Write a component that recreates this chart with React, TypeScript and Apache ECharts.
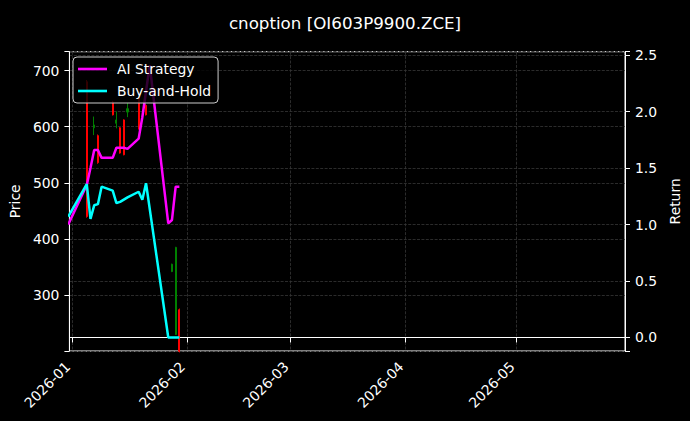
import React, { useEffect, useRef } from 'react';
import * as echarts from 'echarts';

// ---- Candlestick (price) data ----
const candleDates = ['2026-01-05', '2026-01-07', '2026-01-08', '2026-01-12', '2026-01-13', '2026-01-14', '2026-01-15', '2026-01-16', '2026-01-19', '2026-01-21', '2026-01-28', '2026-01-29', '2026-01-30'];
const candleOpen = [680, 598, 584, 644, 606, 598, 612, 626, 652, 638, 342, 230, 274];
const candleClose = [440, 603, 536, 621, 612, 553, 550, 632, 596, 621, 355, 385, 200];
const candleLow = [438, 585, 534, 620, 597, 552, 549, 617, 595, 620, 341, 229, 198];
const candleHigh = [683, 618, 586, 646, 627, 599, 613, 642, 654, 640, 356, 386, 276];

// ---- Return lines ----
const lineDates = ['2025-12-31', '2026-01-05', '2026-01-06', '2026-01-07', '2026-01-08', '2026-01-09', '2026-01-12', '2026-01-13', '2026-01-14', '2026-01-15', '2026-01-16', '2026-01-19', '2026-01-20', '2026-01-21', '2026-01-22', '2026-01-23', '2026-01-26', '2026-01-27', '2026-01-28', '2026-01-29', '2026-01-30'];
const aiStrategy: (number | null)[] = [1.0, 1.35, 1.5, 1.66, 1.66, 1.59, 1.59, 1.68, 1.68, 1.68, 1.67, 1.76, 1.95, null, 2.41, null, null, 1.01, 1.04, 1.335, 1.335];
const buyAndHold: (number | null)[] = [1.07, 1.357, 1.05, 1.17, 1.18, 1.335, 1.3, 1.19, 1.2, 1.22, 1.24, 1.29, 1.22, 1.365, null, null, null, 0.0, 0.0, 0.0, 0.0];

// ---- Axis tick labels ----
const monthLabels = ['2026-01', '2026-02', '2026-03', '2026-04', '2026-05'];

const FONT = 'DejaVu Sans';
const GRID_COLOR = '#363636';

function dayTs(s: string): number {
  const [y, m, d] = s.split('-').map(Number);
  return new Date(y, m - 1, d || 1).getTime();
}

export default function App() {
  const ref = useRef<HTMLDivElement>(null);

  useEffect(() => {
    if (!ref.current) return;
    document.body.style.background = '#000';
    const chart = echarts.init(ref.current, null, { renderer: 'svg' });

    const monthTicks = monthLabels.map(dayTs);
    const xMin = new Date(2025, 11, 31, 7, 30).getTime();
    const xMax = xMin + 150 * 24 * 3600 * 1000;

    const candles = candleDates.map((d, i) => [dayTs(d), candleOpen[i], candleClose[i], candleLow[i], candleHigh[i]]);
    const toLine = (vals: (number | null)[]) =>
      lineDates.map((d, i) => [dayTs(d), vals[i]]).filter((p) => p[1] !== null);

    const splitLine = {
      show: true,
      lineStyle: { color: GRID_COLOR, width: 0.8, type: [3, 1.4] as any },
    };
    const axisText = { color: '#ffffff', fontSize: 13.9, fontFamily: FONT };

    const option: any = {
      animation: false,
      backgroundColor: '#000000',
      title: {
        text: 'cnoption [OI603P9900.ZCE]',
        left: 'center',
        top: 9,
        textStyle: { color: '#ffffff', fontSize: 16.7, fontWeight: 'normal', fontFamily: FONT },
      },
      legend: {
        data: ['AI Strategy', 'Buy-and-Hold'],
        orient: 'vertical',
        left: 73,
        top: 57,
        padding: [5, 7, 5, 5],
        itemGap: 8,
        itemWidth: 29,
        itemHeight: 2.6,
        icon: 'rect',
        backgroundColor: 'rgba(0,0,0,0.8)',
        borderColor: '#cccccc',
        borderWidth: 1,
        borderRadius: 4,
        textStyle: { color: '#ffffff', fontSize: 13.9, fontFamily: FONT, padding: [0, 0, 0, 5] },
      },
      grid: {
        left: 67,
        right: 60,
        top: 51.7,
        bottom: 70,
        show: true,
        borderColor: '#ffffff',
        borderWidth: 1,
        backgroundColor: 'transparent',
      },
      xAxis: {
        type: 'value',
        min: xMin,
        max: xMax,
        axisLine: { show: true, lineStyle: { color: '#ffffff', width: 1 } },
        axisTick: { show: true, length: 5, customValues: monthTicks, lineStyle: { color: '#ffffff' } },
        axisLabel: {
          ...axisText,
          customValues: monthTicks,
          rotate: 45,
          margin: 9,
          padding: [0, 6, 0, 0],
          hideOverlap: false,
          formatter: (v: number) => {
            const idx = monthTicks.indexOf(v);
            if (idx >= 0) return monthLabels[idx];
            const d = new Date(v);
            return d.getFullYear() + '-' + String(d.getMonth() + 1).padStart(2, '0');
          },
        },
        splitLine,
      },
      yAxis: [
        {
          type: 'value',
          position: 'left',
          min: 200.5,
          max: 733.5,
          minInterval: 100,
          maxInterval: 100,
          name: 'Price',
          nameLocation: 'middle',
          nameGap: 44,
          nameRotate: 90,
          nameTextStyle: axisText,
          axisLine: { show: true, lineStyle: { color: '#ffffff', width: 1 } },
          axisTick: { show: true, length: 5, lineStyle: { color: '#ffffff' } },
          axisLabel: {
            ...axisText,
            margin: 10,
            formatter: (v: number) => (Math.abs(v / 100 - Math.round(v / 100)) < 1e-6 ? String(v) : ''),
          },
          splitLine,
        },
        {
          type: 'value',
          position: 'right',
          min: -0.12,
          max: 2.53,
          minInterval: 0.5,
          maxInterval: 0.5,
          name: 'Return',
          nameLocation: 'middle',
          nameGap: 37,
          nameRotate: 90,
          nameTextStyle: axisText,
          axisLine: { show: true, lineStyle: { color: '#ffffff', width: 1 } },
          axisTick: { show: true, length: 5, lineStyle: { color: '#ffffff' } },
          axisLabel: {
            ...axisText,
            margin: 10,
            formatter: (v: number) => (Math.abs(v * 2 - Math.round(v * 2)) < 1e-6 ? v.toFixed(1) : ''),
          },
          splitLine,
        },
      ],
      series: [
        {
          type: 'candlestick',
          name: 'Price',
          yAxisIndex: 0,
          barWidth: 1.6,
          dimensions: ['date', 'open', 'close', 'lowest', 'highest'],
          encode: { x: 0, y: [1, 2, 3, 4] },
          itemStyle: {
            color: '#008000',
            color0: '#ff0000',
            borderColor: '#008000',
            borderColor0: '#ff0000',
            borderWidth: 1,
          },
          data: candles,
        },
        {
          type: 'line',
          name: 'AI Strategy',
          yAxisIndex: 1,
          showSymbol: false,
          symbol: 'none',
          connectNulls: true,
          lineStyle: { color: '#ff00ff', width: 2.5 },
          itemStyle: { color: '#ff00ff' },
          data: toLine(aiStrategy),
        },
        {
          type: 'line',
          name: 'Buy-and-Hold',
          yAxisIndex: 1,
          showSymbol: false,
          symbol: 'none',
          connectNulls: true,
          lineStyle: { color: '#00ffff', width: 2.5 },
          itemStyle: { color: '#00ffff' },
          data: toLine(buyAndHold),
        },
      ],
    };

    chart.setOption(option);
    return () => chart.dispose();
  }, []);

  return (
    <div
      ref={ref}
      style={{ position: 'fixed', left: 0, top: 0, width: 690, height: 421, background: '#000' }}
    />
  );
}
